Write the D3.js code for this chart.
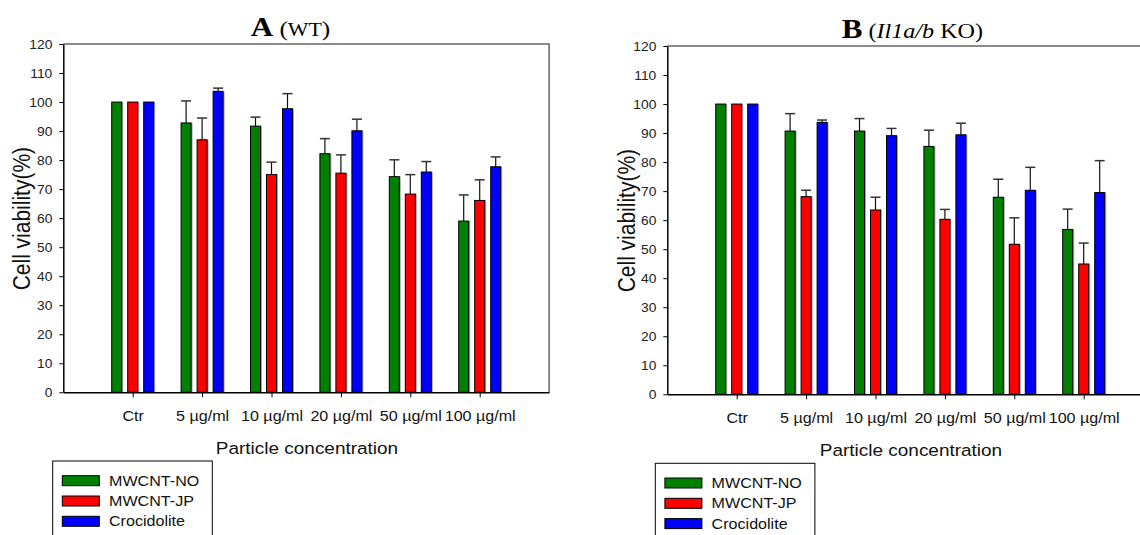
<!DOCTYPE html>
<html>
<head>
<meta charset="utf-8">
<script src="https://cdn.jsdelivr.net/npm/d3@7"></script>
<style>
  html, body { margin: 0; padding: 0; background: #fff; }
  svg { display: block; }
</style>
</head>
<body>
<svg id="chart" width="1140" height="535"></svg>
<script>
// Concentrations on the x axis
const categories = ["Ctr", "5 µg/ml", "10 µg/ml", "20 µg/ml", "50 µg/ml", "100 µg/ml"];
const seriesNames = ["MWCNT-NO", "MWCNT-JP", "Crocidolite"];
const seriesColors = ["#008000", "#ff0000", "#0000ff"];
const yTicks = [0, 10, 20, 30, 40, 50, 60, 70, 80, 90, 100, 110, 120];

// Panel A (WT): mean viability (%) and upper error
const wtNO = [100, 92.8, 91.7, 82.2, 74.3, 59.0];
const wtNOErr = [0, 7.6, 3.1, 5.2, 5.8, 9.0];
const wtJP = [100, 87.0, 75.0, 75.5, 68.3, 66.1];
const wtJPErr = [0, 7.5, 4.3, 6.3, 6.7, 7.1];
const wtCro = [100, 103.7, 97.7, 90.1, 75.9, 77.7];
const wtCroErr = [0, 1.1, 5.2, 4.0, 3.6, 3.4];

// Panel B (Il1a/b KO)
const koNO = [100, 90.7, 90.7, 85.4, 67.9, 56.8];
const koNOErr = [0, 6.0, 4.3, 5.6, 6.2, 7.0];
const koJP = [100, 68.1, 63.5, 60.3, 51.7, 44.9];
const koJPErr = [0, 2.2, 4.4, 3.4, 9.1, 7.2];
const koCro = [100, 93.7, 89.1, 89.4, 70.3, 69.5];
const koCroErr = [0, 0.8, 2.5, 4.0, 7.9, 11.0];

const SANS = "'Liberation Sans', Arial, sans-serif";
const SERIF = "'Liberation Serif', 'Times New Roman', serif";
const SX = 1.15; // horizontal text stretch

const svg = d3.select("#chart");

function drawPanel(opt) {
  const { x0, yTop, yBottom, values, errors, legendX, legendY, yLabelX, titleX, title } = opt;
  const step = 69.4;
  const x = d3.scaleLinear().domain([0, 7]).range([x0, x0 + 7 * step]);
  const y = d3.scaleLinear().domain([0, 120]).range([yBottom, yTop]);
  const xSub = d3.scaleBand().domain(seriesNames).range([-21, 21]).paddingInner(0.375);
  const g = svg.append("g");

  // top and right frame lines
  g.append("path")
    .attr("d", `M${x(0)},${y(120)}H${x(7)}V${y(0)}`)
    .attr("fill", "none").attr("stroke", "#666").attr("stroke-width", 1.5);

  // bars
  seriesNames.forEach((s, si) => {
    const sg = g.append("g");
    const rows = categories.map((c, ci) => ({ ci, v: values[si][ci], e: errors[si][ci] }));
    // shadow
    sg.selectAll("rect.sh").data(rows).join("rect")
      .attr("class", "sh")
      .attr("x", d => x(d.ci + 1) + xSub(s) + 1.5)
      .attr("y", d => y(d.v))
      .attr("width", xSub.bandwidth())
      .attr("height", d => y(0) - y(d.v))
      .attr("fill", "#a8a8a8");
    sg.selectAll("rect.bar").data(rows).join("rect")
      .attr("class", "bar")
      .attr("x", d => x(d.ci + 1) + xSub(s))
      .attr("y", d => y(d.v))
      .attr("width", xSub.bandwidth())
      .attr("height", d => y(0) - y(d.v))
      .attr("fill", seriesColors[si])
      .attr("stroke", "#000").attr("stroke-width", 1);
    // upper error bars
    const eb = rows.filter(d => d.e > 0);
    const cx = d => x(d.ci + 1) + xSub(s) + xSub.bandwidth() / 2;
    sg.selectAll("line.ev").data(eb).join("line")
      .attr("x1", cx).attr("x2", cx)
      .attr("y1", d => y(d.v)).attr("y2", d => y(d.v + d.e))
      .attr("stroke", "#111").attr("stroke-width", 1.2);
    sg.selectAll("line.ec").data(eb).join("line")
      .attr("x1", d => cx(d) - 5).attr("x2", d => cx(d) + 5)
      .attr("y1", d => y(d.v + d.e)).attr("y2", d => y(d.v + d.e))
      .attr("stroke", "#333").attr("stroke-width", 1.5);
  });

  // y axis
  const ya = g.append("g").attr("transform", `translate(${x0},0)`)
    .call(d3.axisLeft(y).tickValues(yTicks).tickSize(4).tickSizeOuter(0));
  ya.select(".domain").attr("stroke", "#000").attr("stroke-width", 1.5);
  ya.selectAll(".tick line").attr("stroke", "#000");
  ya.selectAll("text")
    .attr("x", null).attr("dy", "0.36em")
    .attr("transform", `translate(-11,0) scale(${SX},1)`)
    .attr("font-family", SANS).attr("font-size", 12).attr("fill", "#222");

  // x axis
  const xa = g.append("g").attr("transform", `translate(0,${yBottom})`)
    .call(d3.axisBottom(x).tickValues(d3.range(1, 7)).tickFormat(i => categories[i - 1])
      .tickSize(5).tickSizeOuter(0));
  xa.select(".domain").attr("stroke", "#000").attr("stroke-width", 1.5);
  xa.selectAll(".tick line").attr("stroke", "#000");
  xa.selectAll("text")
    .attr("y", 0).attr("dy", 0)
    .attr("transform", `translate(0,28.7) scale(${SX},1)`)
    .attr("font-family", SANS).attr("font-size", 14).attr("fill", "#111");

  // axis titles
  g.append("text")
    .attr("transform", `translate(${(x0 + 243.7)},${yBottom + 61.5}) scale(${SX},1)`)
    .attr("text-anchor", "middle")
    .attr("font-family", SANS).attr("font-size", 16.5).attr("fill", "#111")
    .text("Particle concentration");
  g.append("text")
    .attr("transform", `translate(${yLabelX},${(yTop + yBottom) / 2 + 0.5}) scale(${SX},1) rotate(-90)`)
    .attr("text-anchor", "middle")
    .attr("font-family", SANS).attr("font-size", 21).attr("fill", "#111")
    .text("Cell viability(%)");

  // title
  const t = g.append("text")
    .attr("transform", `translate(${titleX},${yTop - 8}) scale(${SX},1)`)
    .attr("font-family", SERIF).attr("fill", "#000");
  title.forEach(p => {
    t.append("tspan")
      .attr("font-size", p.size)
      .attr("font-weight", p.bold ? "bold" : "normal")
      .attr("font-style", p.italic ? "italic" : "normal")
      .text(p.text);
  });

  // legend
  const lg = g.append("g").attr("transform", `translate(${legendX},${legendY})`);
  lg.append("rect").attr("x", 0).attr("y", 0).attr("width", 159.6).attr("height", 90)
    .attr("fill", "#fff").attr("stroke", "#000").attr("stroke-width", 1);
  seriesNames.forEach((s, si) => {
    const ry = 14.7 + si * 20.3;
    lg.append("rect").attr("x", 9.6).attr("y", ry).attr("width", 37).attr("height", 10)
      .attr("fill", seriesColors[si]).attr("stroke", "#000").attr("stroke-width", 1);
    lg.append("text")
      .attr("transform", `translate(56.3,${ry + 10}) scale(${SX},1)`)
      .attr("font-family", SANS).attr("font-size", 14).attr("fill", "#111")
      .text(s);
  });
}

drawPanel({
  x0: 63.3, yTop: 44, yBottom: 392.3,
  values: [wtNO, wtJP, wtCro], errors: [wtNOErr, wtJPErr, wtCroErr],
  legendX: 52.7, legendY: 461, yLabelX: 30, titleX: 250.7,
  title: [
    { text: "A", size: 27, bold: true },
    { text: " (", size: 22 },
    { text: "WT", size: 19 },
    { text: ")", size: 22 }
  ]
});

drawPanel({
  x0: 667.3, yTop: 46, yBottom: 394.3,
  values: [koNO, koJP, koCro], errors: [koNOErr, koJPErr, koCroErr],
  legendX: 655.3, legendY: 463.3, yLabelX: 635, titleX: 841.7,
  title: [
    { text: "B", size: 27, bold: true },
    { text: " (", size: 21 },
    { text: "Il1a/b", size: 21, italic: true },
    { text: " KO)", size: 21 }
  ]
});
</script>
</body>
</html>
